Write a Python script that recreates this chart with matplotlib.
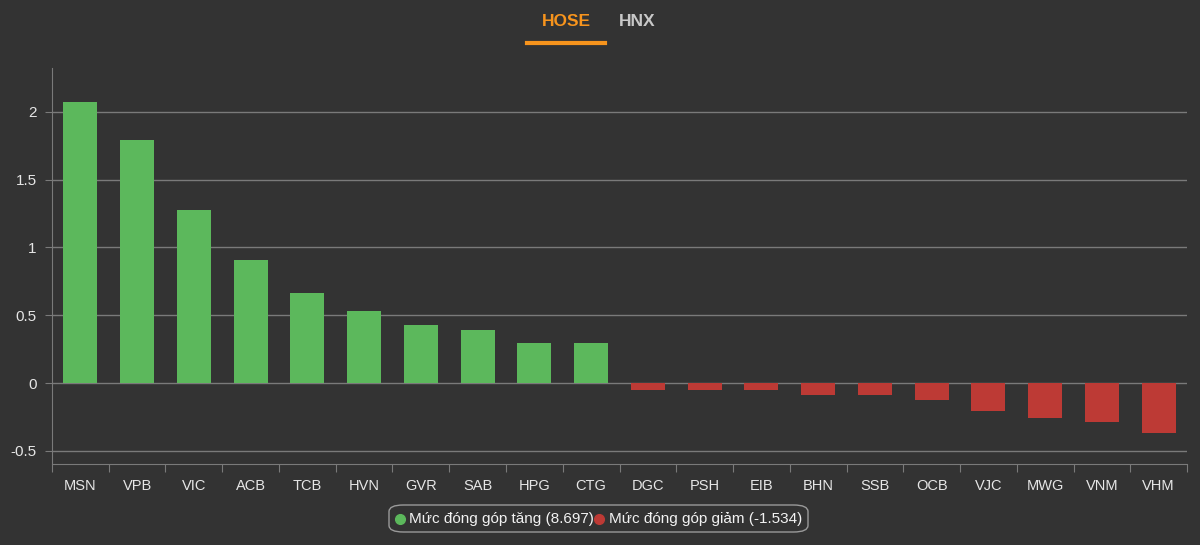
import matplotlib.pyplot as plt
import numpy as np
from matplotlib.patches import FancyBboxPatch
from matplotlib.lines import Line2D

plt.rcParams['font.family'] = ['Liberation Sans', 'DejaVu Sans']

# dữ liệu
tickers = ["MSN", "VPB", "VIC", "ACB", "TCB", "HVN", "GVR", "SAB", "HPG", "CTG",
           "DGC", "PSH", "EIB", "BHN", "SSB", "OCB", "VJC", "MWG", "VNM", "VHM"]
values = [2.07, 1.79, 1.275, 0.905, 0.665, 0.53, 0.425, 0.39, 0.295, 0.295,
          -0.05, -0.05, -0.05, -0.09, -0.09, -0.125, -0.205, -0.26, -0.29, -0.37]
yticks = [-0.5, 0, 0.5, 1, 1.5, 2]
ytick_labels = ["-0.5", "0", "0.5", "1", "1.5", "2"]
legend_labels = ["Mức đóng góp tăng (8.697)", "Mức đóng góp giảm (-1.534)"]
tabs = ["HOSE", "HNX"]

bg = "#333333"
green = "#5cb85c"
red = "#bd3a35"
grid = "#7a7a7a"
txt = "#e6e6e6"

fig = plt.figure(figsize=(12, 5.45), dpi=100, facecolor=bg)
ax = fig.add_axes([0.0433, 0.1486, 0.9459, 0.7266])
ax.set_facecolor(bg)

x = np.arange(len(tickers))
colors = [green if v >= 0 else red for v in values]
ax.bar(x, values, width=0.6, color=colors, zorder=3)

ax.set_xlim(-0.5, len(tickers) - 0.5)
ax.set_ylim(-0.597, 2.323)

ax.set_yticks(yticks)
ax.set_yticklabels(ytick_labels, color=txt, fontsize=11)
ax.yaxis.grid(True, color=grid, linewidth=1, zorder=0)
ax.tick_params(axis="y", length=5, color=grid, pad=6)

# ticks between categories, labels at centres
ax.set_xticks(np.arange(-0.5, len(tickers), 1.0))
ax.set_xticklabels([])
ax.set_xticks(x, minor=True)
ax.set_xticklabels(tickers, minor=True, color=txt, fontsize=10.5)
ax.tick_params(axis="x", which="major", length=6, color=grid)
ax.tick_params(axis="x", which="minor", length=0, pad=11)

for s in ["top", "right"]:
    ax.spines[s].set_visible(False)
ax.spines["left"].set_color(grid)
ax.spines["bottom"].set_color(grid)

# tab header
fig.text(566 / 1200, 1 - 22 / 545, tabs[0], color="#f7941d", fontsize=12.5,
         fontweight="bold", ha="center", va="center")
fig.text(637 / 1200, 1 - 22 / 545, tabs[1], color="#c8c8c8", fontsize=12.5,
         fontweight="bold", ha="center", va="center")
fig.add_artist(Line2D([527 / 1200, 605 / 1200], [1 - 43 / 545, 1 - 43 / 545],
                      color="#f7941d", linewidth=3, transform=fig.transFigure))

# legend
box = FancyBboxPatch((389 / 1200, 1 - 532 / 545), 419 / 1200, 27 / 545,
                     boxstyle="round,pad=0,rounding_size=0.012",
                     transform=fig.transFigure, facecolor=bg,
                     edgecolor="#9a9a9a", linewidth=1)
fig.add_artist(box)
ly = 1 - 518.5 / 545
fig.add_artist(Line2D([400 / 1200], [ly], marker="o", markersize=7,
                      color=green, linestyle="none", transform=fig.transFigure))
fig.text(409 / 1200, ly, legend_labels[0], color="#f2f2f2", fontsize=11,
         ha="left", va="center")
fig.add_artist(Line2D([599 / 1200], [ly], marker="o", markersize=7,
                      color=red, linestyle="none", transform=fig.transFigure))
fig.text(609 / 1200, ly, legend_labels[1], color="#f2f2f2", fontsize=11,
         ha="left", va="center")

plt.savefig("out.png", dpi=100, facecolor=bg)
